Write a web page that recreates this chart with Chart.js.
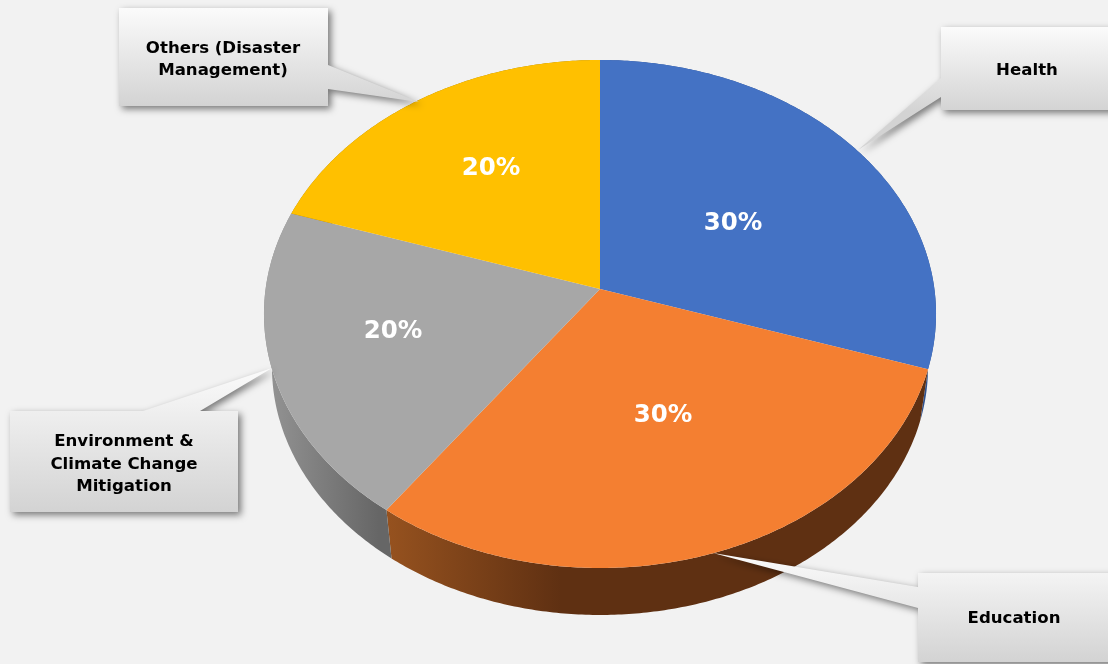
<!DOCTYPE html>
<html>
<head>
<meta charset="utf-8">
<style>
    html, body { margin: 0; padding: 0; background: #f2f2f2; overflow: hidden; }
    canvas { display: block; }
</style>
<script src="https://cdn.jsdelivr.net/npm/chart.js@4"></script>
</head>
<body>
<canvas id="myChart" width="1108" height="664"></canvas>
<script>
const categories = ['Health', 'Education', 'Environment & Climate Change Mitigation', 'Others (Disaster Management)'];
const shares = [30, 30, 20, 20];
const calloutLines = [
    ['Health'],
    ['Education'],
    ['Environment &', 'Climate Change', 'Mitigation'],
    ['Others (Disaster', 'Management)'],
];

const topColors = ['#4472c4', '#f47f31', '#a7a7a7', '#ffc000'];
const wallColors = [
    ['#2f528f', '#2f528f'],
    ['#96521f', '#5f3012'],
    ['#959595', '#666666'],
    ['#a07a00', '#a07a00'],
];

// where the percent labels sit
const percentSpots = [[733, 224], [663, 416], [393, 332], [491, 169]];

// callout outlines, box corners plus the tail going to the pie
const callouts = [
    { grad: [27, 112], text: [1027, 70.5], shape: [[941, 27], [1120, 27], [1120, 110], [941, 110], [941, 97], [858, 150], [941, 78]] },
    { grad: [553, 662], text: [1014, 618.5], shape: [[918, 573], [1120, 573], [1120, 662], [918, 662], [918, 608], [713, 553], [918, 587]] },
    { grad: [368, 512], text: [124, 464.5], shape: [[10, 411], [143, 411], [272, 368], [200, 411], [238, 411], [238, 512], [10, 512]] },
    { grad: [8, 106], text: [223, 59.5], shape: [[119, 8], [328, 8], [328, 65], [419, 102], [328, 89], [328, 106], [119, 106]] },
];

// 3D tilt: circle -> ellipse with the apex pushed up, fitted on the picture
const CX = 600, APEX_Y = 289, TILT_K = -0.0984, TILT_A = 223.1, TILT_C = 334.4;
const TOP_CY = 314, BASE_CY = 367, BASE_SX = 328 / 336, BASE_SY = 248 / 254;

function project(angle) {
    // chart.js angle, -PI/2 is the top of the pie
    const X = Math.cos(angle), Y = Math.sin(angle);
    const w = 1 + TILT_K * Y;
    return [CX + TILT_C * X / w, (TILT_A * Y + APEX_Y) / w];
}

function base(p) {
    return [CX + (p[0] - CX) * BASE_SX, BASE_CY + (p[1] - TOP_CY) * BASE_SY];
}

function rimPoints(arc) {
    const pts = [];
    const steps = Math.ceil((arc.endAngle - arc.startAngle) / 0.01);
    for (let i = 0; i <= steps; i++) {
        pts.push(project(arc.startAngle + (arc.endAngle - arc.startAngle) * i / steps));
    }
    return pts;
}

function tracePath(ctx, pts) {
    ctx.beginPath();
    pts.forEach((p, i) => i ? ctx.lineTo(p[0], p[1]) : ctx.moveTo(p[0], p[1]));
    ctx.closePath();
}

const pie3d = {
    id: 'pie3d',
    beforeDatasetDraw(chart, args) {
        const ctx = chart.ctx;
        const arcs = args.meta.data;
        ctx.save();
        // side wall first, the top faces cover whatever is behind
        arcs.forEach((arc, i) => {
            const rim = rimPoints(arc);
            const wall = rim.concat(rim.map(base).reverse());
            const xs = rim.map(p => p[0]);
            const g = ctx.createLinearGradient(Math.min(...xs), 0, Math.min(...xs) + (i === 1 ? 175 : 115), 0);
            g.addColorStop(0, wallColors[i][0]);
            g.addColorStop(1, wallColors[i][1]);
            tracePath(ctx, wall);
            ctx.fillStyle = g;
            ctx.fill();
        });
        arcs.forEach((arc, i) => {
            tracePath(ctx, [[CX, APEX_Y]].concat(rimPoints(arc)));
            ctx.fillStyle = topColors[i];
            ctx.fill();
        });
        ctx.restore();
        return false;
    },
    afterDatasetsDraw(chart) {
        const ctx = chart.ctx;
        const total = shares.reduce((a, b) => a + b, 0);
        ctx.save();
        ctx.textAlign = 'center';
        ctx.textBaseline = 'middle';

        ctx.fillStyle = '#ffffff';
        ctx.font = 'bold 24.5px "DejaVu Sans"';
        shares.forEach((v, i) => {
            ctx.fillText(Math.round(v / total * 100) + '%', percentSpots[i][0], percentSpots[i][1]);
        });

        callouts.forEach((c, i) => {
            const g = ctx.createLinearGradient(0, c.grad[0], 0, c.grad[1]);
            g.addColorStop(0, '#fbfbfb');
            g.addColorStop(1, '#d3d3d3');
            ctx.save();
            ctx.shadowColor = 'rgba(0,0,0,0.5)';
            ctx.shadowBlur = 7;
            ctx.shadowOffsetX = 3;
            ctx.shadowOffsetY = 3;
            tracePath(ctx, c.shape);
            ctx.fillStyle = g;
            ctx.fill();
            ctx.restore();

            const lines = calloutLines[i];
            ctx.fillStyle = '#000000';
            ctx.font = 'bold 16.6px "DejaVu Sans"';
            lines.forEach((line, n) => {
                ctx.fillText(line, c.text[0], c.text[1] + (n - (lines.length - 1) / 2) * 22.5);
            });
        });
        ctx.restore();
    }
};

new Chart(document.getElementById('myChart'), {
    type: 'pie',
    data: {
        labels: categories,
        datasets: [{
            data: shares,
            backgroundColor: topColors,
            borderWidth: 0,
        }]
    },
    options: {
        responsive: false,
        animation: false,
        plugins: {
            legend: { display: false },
            tooltip: { enabled: false },
        },
    },
    plugins: [pie3d]
});
</script>
</body>
</html>
